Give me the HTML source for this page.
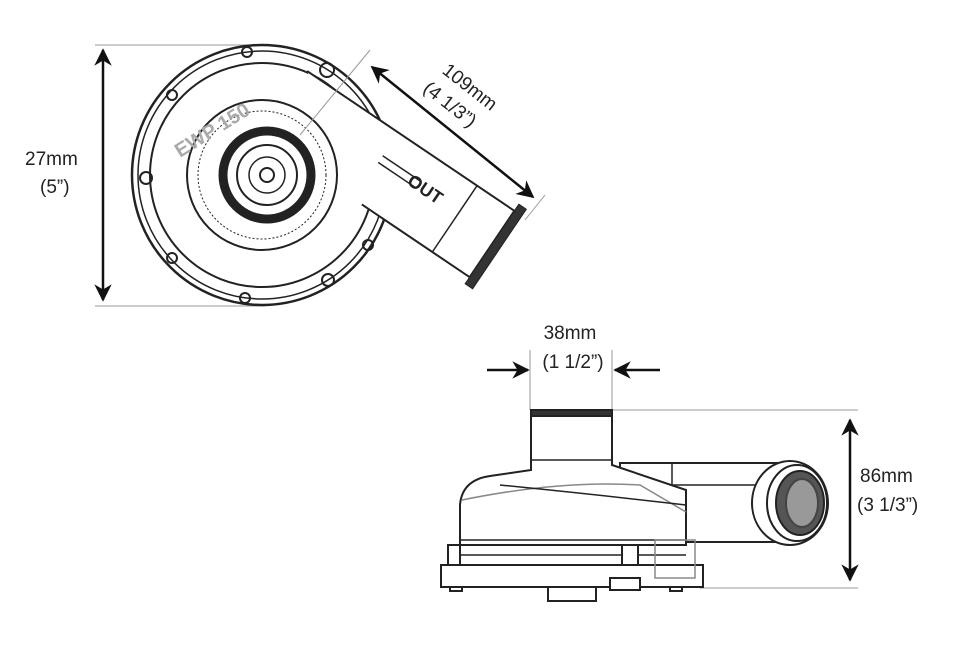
<!DOCTYPE html>
<html><head><style>
html,body{margin:0;padding:0;background:#fff;}
svg{display:block;}
text{font-family:"Liberation Sans",sans-serif;fill:#222;}
</style></head><body>
<svg width="970" height="647" viewBox="0 0 970 647" xmlns="http://www.w3.org/2000/svg">
<defs>
<marker id="ah" viewBox="0 0 10 10" refX="9" refY="5" markerWidth="7" markerHeight="7" orient="auto-start-reverse"><path d="M0,0 L10,5 L0,10 L3,5 z" fill="#111"/></marker>
</defs>
<line x1="95" y1="45" x2="265" y2="45" stroke="#999" stroke-width="1"/>
<line x1="95" y1="306" x2="265" y2="306" stroke="#999" stroke-width="1"/>
<line x1="103" y1="50" x2="103" y2="300" stroke="#111" stroke-width="2.5" marker-start="url(#ah)" marker-end="url(#ah)"/>
<text x="25" y="165" font-size="19">27mm</text>
<text x="40" y="193" font-size="19">(5”)</text>
<line x1="545" y1="195" x2="525" y2="220" stroke="#999" stroke-width="1"/>
<line x1="372" y1="67" x2="533" y2="197" stroke="#111" stroke-width="2.5" marker-start="url(#ah)" marker-end="url(#ah)"/>
<g transform="translate(470,95) rotate(38)"><text x="-5" y="0" font-size="19" text-anchor="middle">109mm</text><text x="-10" y="26" font-size="19" text-anchor="middle">(4 1/3”)</text></g>

<g fill="none" stroke="#222">
<circle cx="262" cy="175" r="130" stroke-width="2.5" fill="#fff"/>
<circle cx="262" cy="175" r="124" stroke-width="1.5"/>
<circle cx="262" cy="175" r="112" stroke-width="2"/>
<g transform="translate(492,244) rotate(34)">
<path d="M-250 -40 L0 -40 L0 40 L-130 40" fill="#fff" stroke-width="2"/>
<line x1="-45" y1="-40" x2="-45" y2="40" stroke-width="1.5"/>
<rect x="0" y="-48" width="9" height="96" fill="#333" stroke-width="1"/>
<text x="-105" y="-2" font-size="18" font-weight="bold" stroke="none">OUT</text>
<line x1="-140" y1="-12" x2="-95" y2="-12" stroke-width="1.5"/>
<line x1="-140" y1="-4" x2="-95" y2="-4" stroke-width="1.5"/>
</g>
<circle cx="262" cy="175" r="75" stroke-width="2" fill="#fff"/>
<circle cx="262" cy="175" r="64" stroke-width="1" stroke-dasharray="2 2"/>
<circle cx="267" cy="175" r="44" stroke-width="9"/>
<circle cx="267" cy="175" r="30" stroke-width="2"/>
<circle cx="267" cy="175" r="18" stroke-width="1.5"/>
<circle cx="267" cy="175" r="7" stroke-width="2"/>
<line x1="370" y1="50" x2="300" y2="135" stroke="#999" stroke-width="1"/>
<circle cx="247" cy="52" r="5" stroke-width="2"/>
<circle cx="327" cy="70" r="7" stroke-width="2"/>
<circle cx="172" cy="95" r="5" stroke-width="2"/>
<circle cx="146" cy="178" r="6" stroke-width="2"/>
<circle cx="172" cy="258" r="5" stroke-width="2"/>
<circle cx="245" cy="298" r="5" stroke-width="2"/>
<circle cx="328" cy="280" r="6" stroke-width="2"/>
<circle cx="368" cy="245" r="5" stroke-width="2"/>
</g>
<text x="0" y="0" font-size="20" font-weight="bold" style="fill:#aaa" transform="translate(180,158) rotate(-32)">EWP  150</text>

<text x="570" y="339" font-size="19" text-anchor="middle">38mm</text>
<text x="573" y="368" font-size="19" text-anchor="middle">(1 1/2”)</text>
<line x1="530" y1="350" x2="530" y2="410" stroke="#999"/>
<line x1="612" y1="350" x2="612" y2="410" stroke="#999"/>
<line x1="487" y1="370" x2="528" y2="370" stroke="#111" stroke-width="2.5" marker-end="url(#ah)"/>
<line x1="660" y1="370" x2="615" y2="370" stroke="#111" stroke-width="2.5" marker-end="url(#ah)"/>
<line x1="612" y1="410" x2="858" y2="410" stroke="#999"/>
<line x1="700" y1="588" x2="858" y2="588" stroke="#999"/>
<line x1="850" y1="420" x2="850" y2="580" stroke="#111" stroke-width="2.5" marker-start="url(#ah)" marker-end="url(#ah)"/>
<text x="860" y="482" font-size="19">86mm</text>
<text x="857" y="511" font-size="19">(3 1/3”)</text>

<g fill="#fff" stroke="#222" stroke-width="2">
<path d="M620 463 L790 463 L790 542 L620 542 z"/>
<line x1="672" y1="463" x2="672" y2="542" stroke-width="1.5"/>
<line x1="672" y1="485" x2="760" y2="485" stroke-width="1.5"/>
<ellipse cx="790" cy="503" rx="38" ry="42"/>
<ellipse cx="797" cy="503" rx="30" ry="38"/>
<ellipse cx="800" cy="503" rx="24" ry="32" fill="#555"/>
<ellipse cx="802" cy="503" rx="16" ry="24" fill="#999" stroke="#444"/>
<path d="M460 545 L460 505 Q462 480 490 476 L531 470 L531 415 L612 415 L612 465 L686 490 L686 545 z"/>
<rect x="531" y="410" width="81" height="6" fill="#333"/>
<line x1="531" y1="460" x2="612" y2="460" stroke-width="1.5"/>
<path d="M462 500 Q560 480 640 485 L686 512" fill="none" stroke="#888" stroke-width="1.5"/>
<path d="M500 485 Q600 495 686 505" fill="none" stroke-width="1.5"/>
<line x1="460" y1="540" x2="686" y2="540" stroke-width="1.5"/>
<line x1="460" y1="555" x2="686" y2="555" stroke-width="1.5"/>
<rect x="448" y="545" width="12" height="22"/>
<rect x="622" y="545" width="16" height="22"/>
<rect x="441" y="565" width="262" height="22"/>
<rect x="655" y="540" width="40" height="38" fill="none" stroke="#888" stroke-width="1.5"/>
<rect x="548" y="587" width="48" height="14"/>
<rect x="610" y="578" width="30" height="12"/>
<rect x="450" y="587" width="12" height="4"/>
<rect x="670" y="587" width="12" height="4"/>
</g>
</svg>
</body></html>
